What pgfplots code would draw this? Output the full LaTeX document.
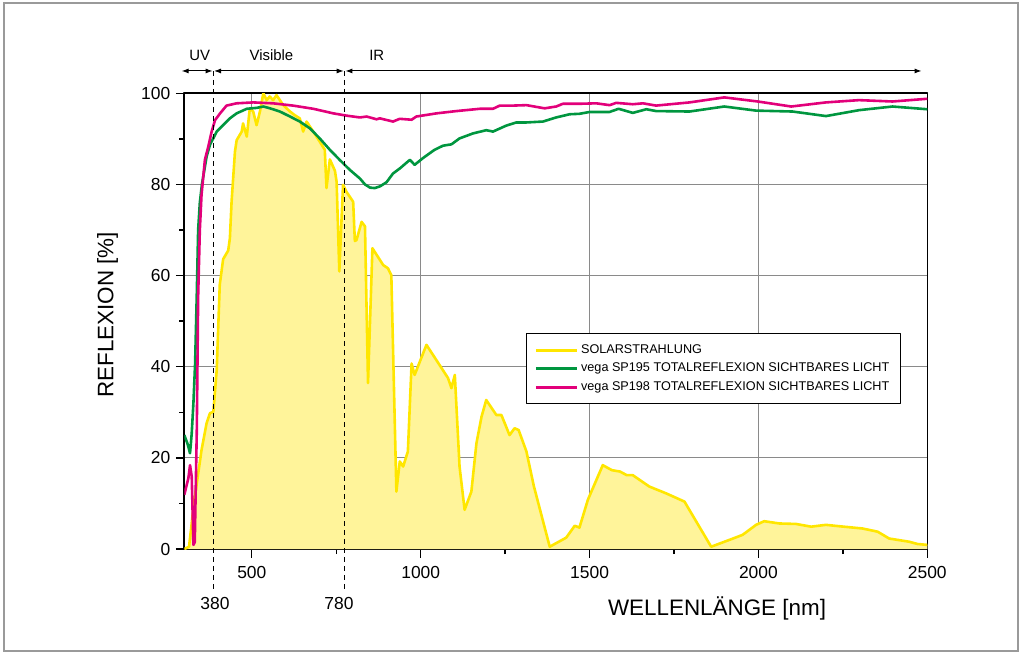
\documentclass[border=0pt]{standalone}
\usepackage{fontspec}
\setmainfont{Liberation Sans}
\usepackage{pgfplots}
\usepackage{pgfplotstable}
\pgfplotsset{compat=1.18}
\usetikzlibrary{arrows.meta}

\definecolor{solline}{HTML}{FFE600}
\definecolor{solfill}{HTML}{FFF49A}
\definecolor{spgreen}{HTML}{00963F}
\definecolor{sppink}{HTML}{E2007A}
\definecolor{gridgray}{HTML}{8A8A8A}
\definecolor{framegray}{HTML}{9A9A9A}

% solar spectrum (relative), nm / %
\pgfplotstableread{
nm r
300 0
314 0.5
321 5
328 10
337 14.4
351 21.7
366 27.6
376 29.8
386 30.1
396 39.3
405 58
415 63.6
430 65.5
435 68.2
440 76.2
450 87.2
455 89.7
470 91.6
474 93.4
485 90.5
494 96.7
504 96.0
514 93.0
524 96
534 100
544 98.5
553 99.3
563 98.5
573 99.6
583 98.5
593 97.4
613 96
627 95.2
642 94.5
652 91.6
662 93.8
682 91.6
701 89.4
716 87.6
721 79.2
731 85.5
746 83
751 80.6
759 60.9
770 79.9
780 78.4
800 76.2
805 67.6
810 67.8
825 71.8
835 70.8
844 36.4
857 66
889 62.3
903 61.6
913 60.1
928 12.6
938 19.2
948 18.1
962 21.4
973 40.7
982 38.2
1017 44.8
1046 41.5
1081 37.5
1091 35.3
1101 38.2
1115 18.1
1130 8.6
1150 12.6
1165 23.2
1180 29
1194 32.7
1224 29.4
1239 29.4
1263 25
1278 26.5
1290 26.1
1313 21.4
1335 13.8
1382 0.5
1431 2.5
1456 5.1
1470 4.7
1495 10.8
1539 18.4
1566 17.3
1590 17
1610 16.2
1628 16.2
1677 13.7
1727 12.2
1781 10.4
1860 0.5
1914 2
1953 3.1
1993 5.3
2017 6.1
2062 5.6
2111 5.5
2156 4.9
2200 5.3
2239 5
2308 4.5
2353 3.8
2387 2.3
2446 1.6
2471 1.1
2500 0.9
}\solar

% vega SP195
\pgfplotstableread{
nm r
300 25
310 23
317 21
322 25.4
327 32
332 40.7
337 56
341 70
346 76
352 79.9
366 86.1
376 88.7
396 91.6
415 93
435 94.5
455 95.6
485 96.6
514 96.8
534 97.1
554 96.7
583 96
613 94.9
642 93.8
672 92.3
701 90.1
731 87.6
760 85.4
790 83.2
820 81.3
835 80
850 79.3
864 79.2
880 79.6
899 80.5
918 82.4
938 83.5
968 85.4
982 84.3
1007 85.8
1041 87.6
1066 88.5
1091 88.8
1115 90.1
1155 91.2
1194 91.9
1214 91.6
1253 92.9
1283 93.6
1313 93.6
1362 93.8
1401 94.7
1441 95.4
1470 95.5
1500 95.9
1559 95.9
1586 96.6
1628 95.7
1668 96.5
1697 96.1
1796 96
1899 97.1
1993 96.2
2101 96
2200 95
2298 96.3
2397 97.1
2500 96.5
}\spgreen

% vega SP198
\pgfplotstableread{
nm r
300 11.9
312 15.5
317 18.4
322 15.9
327 0.9
331 1.5
337 26.1
341 55.4
346 70
351 77.7
361 85.4
371 88.3
381 91.6
391 94.1
406 95.6
425 97.3
455 97.8
504 98
563 97.8
622 97.3
682 96.6
741 95.6
780 95.1
820 94.7
840 94.9
869 94.3
879 94.5
918 93.8
938 94.4
973 94.2
987 94.9
1047 95.6
1106 96.1
1175 96.6
1214 96.6
1234 97.3
1273 97.3
1313 97.4
1367 96.7
1401 97.1
1421 97.7
1470 97.7
1520 97.8
1559 97.4
1579 97.9
1628 97.6
1658 97.8
1697 97.3
1796 98
1899 99.1
1998 98.2
2097 97.1
2200 98
2298 98.5
2397 98.2
2500 98.8
}\sppink

\begin{document}
\begin{tikzpicture}
\begin{axis}[
    scale only axis,
    width=743bp, height=455.7bp,
    xmin=300, xmax=2500, ymin=0, ymax=100,
    xtick={500,1000,1500,2000,2500},
    minor xtick={750,1250,1750,2250},
    ytick={0,20,40,60,80,100},
    minor ytick={10,30,50,70,90},
    xtick pos=bottom, ytick pos=left,
    tick align=outside,
    major tick length=8.5bp, minor tick length=5bp,
    every tick/.style={black, line width=1.3bp},
    grid=major,
    major grid style={gridgray, line width=1bp},
    axis line style={black, line width=1.6bp},
    /pgf/number format/assume math mode=true,
    /pgf/number format/1000 sep={},
    ticklabel style={font=\fontsize{17.5}{20}\selectfont},
    xticklabel style={yshift=-5bp},
    yticklabel style={xshift=-2bp},
    xlabel={WELLENLÄNGE [nm]},
    ylabel={REFLEXION [\%]},
    label style={font=\fontsize{22.5}{26}\selectfont},
    xlabel style={at={(axis description cs:0.717,-0.1455)}, anchor=base},
    ylabel style={at={(axis description cs:-0.0956,0.5135)}, anchor=base},
    clip mode=individual,
    legend cell align=left,
    legend style={at={(axis description cs:0.4599,0.474)}, anchor=north west,
        draw=black, line width=1bp, font=\fontsize{12.7}{14}\selectfont,
        inner xsep=8bp, inner ysep=7.5bp, row sep=0bp,
        nodes={text height=9bp, text depth=2.5bp, inner ysep=3.5bp, inner xsep=3bp}},
    legend image code/.code={\draw[#1] (0bp,0bp) -- (41bp,0bp);},
    line join=round,
]
\addplot[draw=none, fill=solfill, forget plot] table[x=nm, y=r] {\solar} \closedcycle;
\addplot[solline, line width=2.6bp] table[x=nm, y=r] {\solar};
\addlegendentry{SOLARSTRAHLUNG}
\addplot[spgreen, line width=2.6bp] table[x=nm, y=r] {\spgreen};
\addlegendentry{vega SP195 TOTALREFLEXION SICHTBARES LICHT}
\addplot[sppink, line width=2.6bp] table[x=nm, y=r] {\sppink};
\addlegendentry{vega SP198 TOTALREFLEXION SICHTBARES LICHT}

% range markers
\draw[black, line width=1.2bp, dash pattern=on 5bp off 4bp] (axis cs:386,104.9) -- (axis cs:386,-9.4);
\draw[black, line width=1.2bp, dash pattern=on 5bp off 4bp] (axis cs:774,104.9) -- (axis cs:774,-9.4);
\draw[black, line width=1bp, {Latex[length=7bp,width=5bp]}-{Latex[length=7bp,width=5bp]}]
    (axis cs:292,104.9) -- (axis cs:384,104.9);
\draw[black, line width=1bp, {Latex[length=7bp,width=5bp]}-{Latex[length=7bp,width=5bp]}]
    (axis cs:388,104.9) -- (axis cs:772,104.9);
\draw[black, line width=1bp, {Latex[length=7bp,width=5bp]}-{Latex[length=7bp,width=5bp]}]
    (axis cs:777,104.9) -- (axis cs:2483,104.9);
\node[font=\fontsize{15}{17}\selectfont] at (axis cs:346,108.4) {UV};
\node[font=\fontsize{15}{17}\selectfont] at (axis cs:558,108.4) {Visible};
\node[font=\fontsize{15}{17}\selectfont] at (axis cs:870,108.4) {IR};
\node[font=\fontsize{17.5}{20}\selectfont] at (axis cs:391,-11.9) {380};
\node[font=\fontsize{17.5}{20}\selectfont] at (axis cs:758,-11.9) {780};
\end{axis}
\pgfresetboundingbox
\path[use as bounding box] (-184.3bp,-104bp) rectangle (836.7bp,549bp);
\draw[framegray, line width=1.3bp] (-180.3bp,-102bp) rectangle (833.7bp,546bp);
\end{tikzpicture}
\end{document}
